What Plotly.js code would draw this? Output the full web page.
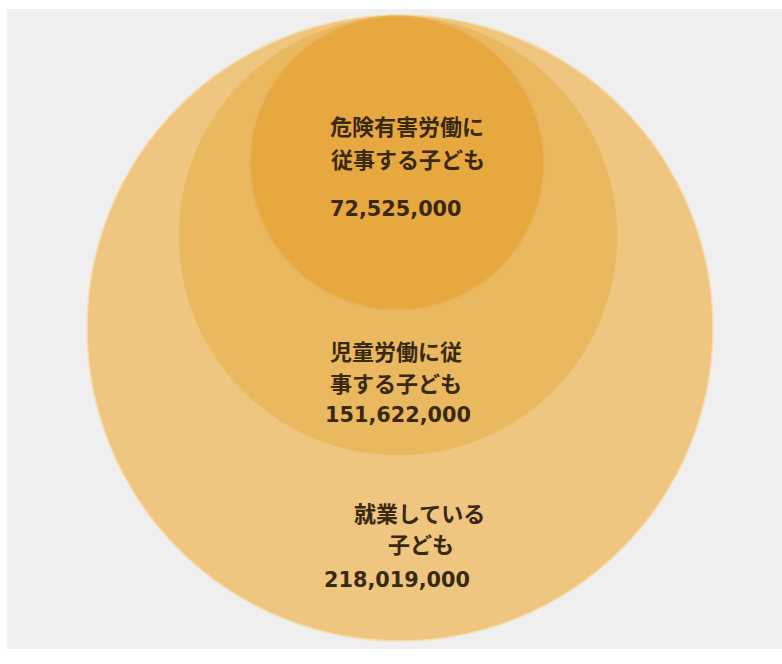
<!DOCTYPE html>
<html>
<head>
<meta charset="utf-8">
<script src="https://cdn.plot.ly/plotly-3.0.1.min.js"></script>
<style>html,body{margin:0;padding:0;background:#fff;}#chart{width:782px;height:664px;}</style>
</head>
<body>
<div id="chart"></div>
<script>
// Data (outermost to innermost)
const categories = ['就業している子ども', '児童労働に従事する子ども', '危険有害労働に従事する子ども'];
const values = [218019000, 151622000, 72525000];
const labelLines = [
  ['就業している', '子ども'],
  ['児童労働に従', '事する子ども'],
  ['危険有害労働に', '従事する子ども']
];

// Geometry / style (not data)
const circleGeom = [
  {cx: 400, cy: 328, r: 313},
  {cx: 398, cy: 236, r: 220},
  {cx: 397, cy: 163, r: 147}
];
const fills = ['#EEC67F', '#EAB85E', '#E6A83F'];
const rims = ['#F7DDAE', '#EFC57E', '#E9B25A'];
const textPos = [
  {lines: [{x: 419, y: 512}, {x: 421, y: 543}], num: {x: 397, y: 580}},
  {lines: [{x: 396, y: 350}, {x: 396, y: 382}], num: {x: 398, y: 415}},
  {lines: [{x: 407, y: 125}, {x: 408, y: 158}], num: {x: 396, y: 209}}
];
const textColor = '#3a2912';

const shapes = [{
  type: 'rect', xref: 'x', yref: 'y', x0: 7, x1: 782, y0: 9, y1: 649,
  fillcolor: '#EFEFEF', line: {width: 0}, layer: 'below'
}];
circleGeom.forEach((g, i) => {
  shapes.push({
    type: 'circle', xref: 'x', yref: 'y',
    x0: g.cx - g.r, x1: g.cx + g.r, y0: g.cy - g.r, y1: g.cy + g.r,
    fillcolor: fills[i], line: {color: rims[i], width: 1.5}, layer: 'below'
  });
});

const annotations = [];
categories.forEach((c, i) => {
  labelLines[i].forEach((t, j) => {
    annotations.push({
      x: textPos[i].lines[j].x, y: textPos[i].lines[j].y, xref: 'x', yref: 'y',
      text: '<b>' + t + '</b>', showarrow: false, xanchor: 'center', yanchor: 'middle',
      font: {family: '"Noto Sans CJK JP", sans-serif', size: 22, color: textColor}
    });
  });
  annotations.push({
    x: textPos[i].num.x, y: textPos[i].num.y, xref: 'x', yref: 'y',
    text: '<b>' + values[i].toLocaleString('en-US') + '</b>', showarrow: false,
    xanchor: 'center', yanchor: 'middle',
    font: {family: '"DejaVu Sans", sans-serif', size: 20.8, color: textColor}
  });
});

const layout = {
  width: 782, height: 664,
  margin: {l: 0, r: 0, t: 0, b: 0, pad: 0},
  paper_bgcolor: '#FFFFFF', plot_bgcolor: 'rgba(0,0,0,0)',
  xaxis: {range: [0, 782], visible: false, fixedrange: true},
  yaxis: {range: [664, 0], visible: false, fixedrange: true},
  shapes: shapes, annotations: annotations, showlegend: false
};

Plotly.newPlot('chart', [{x: [], y: [], type: 'scatter', mode: 'markers', hoverinfo: 'skip'}], layout, {displayModeBar: false, staticPlot: true});
</script>
</body>
</html>
